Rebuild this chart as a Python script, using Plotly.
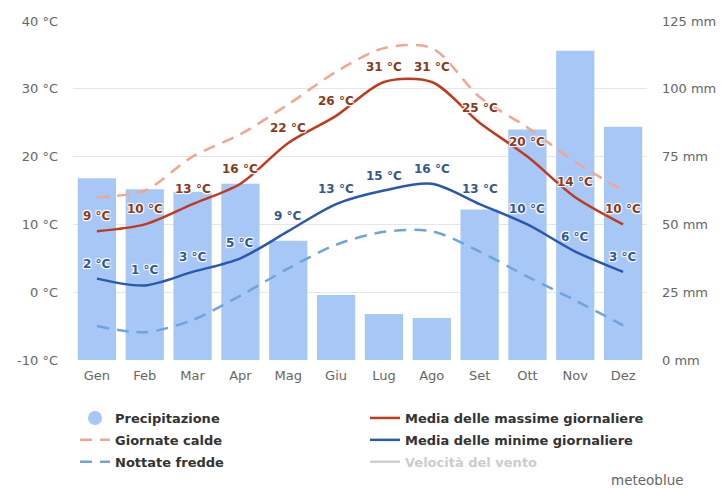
import plotly.graph_objects as go

months = ["Gen", "Feb", "Mar", "Apr", "Mag", "Giu", "Lug", "Ago", "Set", "Ott", "Nov", "Dez"]
precip_mm = [67, 63, 62, 65, 44, 24, 17, 15.5, 55.5, 85, 114, 86]
t_max = [9, 10, 13, 16, 22, 26, 31, 31, 25, 20, 14, 10]
t_min = [2, 1, 3, 5, 9, 13, 15, 16, 13, 10, 6, 3]
hot_days = [14, 15, 20, 23.3, 27.7, 32.5, 36, 36, 28.8, 24.3, 19.2, 15]
cold_nights = [-5, -5.9, -4.1, -0.5, 3.5, 7, 8.9, 9, 6, 2.3, -1.2, -4.9]

temp_ticks = [-10, 0, 10, 20, 30, 40]
temp_ticktext = [f"{v} °C" for v in temp_ticks]
mm_ticks = [0, 25, 50, 75, 100, 125]
mm_ticktext = [f"{v} mm" for v in mm_ticks]

FONT = "DejaVu Sans"
halo = "1px 1px 1px #fff, -1px -1px 1px #fff, 1px -1px 1px #fff, -1px 1px 1px #fff"
SMOOTH = 0.85

fig = go.Figure()

fig.add_trace(go.Bar(
    x=months, y=precip_mm, yaxis="y", marker=dict(color="#a7c8f6", line=dict(width=0)),
    width=0.8, showlegend=False, name="Precipitazione", hoverinfo="skip"))

fig.add_trace(go.Scatter(
    x=months, y=hot_days, yaxis="y2", mode="lines",
    line=dict(color="#f2a591", width=2.5, dash="12px,8px", shape="spline", smoothing=SMOOTH),
    name="Giornate calde", legend="legend", legendgroup="g2", legendrank=2))
fig.add_trace(go.Scatter(
    x=months, y=cold_nights, yaxis="y2", mode="lines",
    line=dict(color="#6fa4dc", width=2.5, dash="12px,8px", shape="spline", smoothing=SMOOTH),
    name="Nottate fredde", legend="legend", legendgroup="g3", legendrank=3))
fig.add_trace(go.Scatter(
    x=months, y=t_max, yaxis="y2", mode="lines",
    line=dict(color="#c13a1c", width=2.5, shape="spline", smoothing=SMOOTH),
    name="Media delle massime giornaliere", legend="legend2", legendgroup="g4", legendrank=4))
fig.add_trace(go.Scatter(
    x=months, y=t_min, yaxis="y2", mode="lines",
    line=dict(color="#2a58ac", width=2.5, shape="spline", smoothing=SMOOTH),
    name="Media delle minime giornaliere", legend="legend2", legendgroup="g5", legendrank=5))
# legend-only entries (no visible data)
fig.add_trace(go.Scatter(
    x=[months[0]], y=[None], yaxis="y2", mode="markers", marker=dict(color="#a7c8f6", size=14),
    name="Precipitazione", legend="legend", legendgroup="g1", legendrank=1, hoverinfo="skip"))
fig.add_trace(go.Scatter(
    x=[months[0]], y=[None], yaxis="y2", mode="lines", line=dict(color="#d0d0d0", width=2.5),
    name="<span style='color:#cccccc'>Velocità del vento</span>", legend="legend2", legendgroup="g6",
    legendrank=6, hoverinfo="skip"))

# data labels, placed through the axes and lifted above each point
annotations = []
for series, color in ((t_max, "#8a3a1c"), (t_min, "#34588f")):
    for m, v in zip(months, series):
        annotations.append(dict(
            x=m, y=v, xref="x", yref="y2", text=f"{v} °C", showarrow=False,
            xanchor="center", yanchor="middle", yshift=15,
            font=dict(family=FONT, size=12, color=color, weight="bold", shadow=halo)))
annotations.append(dict(
    text="meteoblue", xref="paper", yref="paper", x=(686 - 73) / 574, y=(360 - 480) / 339,
    xanchor="right", yanchor="middle", showarrow=False,
    font=dict(family=FONT, size=13.5, color="#666666")))

legend_common = dict(
    orientation="v", traceorder="grouped", tracegroupgap=2,
    font=dict(family=FONT, size=13, color="#333333", weight="bold"),
    bgcolor="rgba(0,0,0,0)", borderwidth=0, itemwidth=30,
    xref="container", yref="container", xanchor="left", yanchor="top",
    itemclick=False, itemdoubleclick=False)

fig.update_layout(
    width=721, height=488,
    margin=dict(l=73, r=74, t=21, b=128, autoexpand=False),
    paper_bgcolor="white", plot_bgcolor="white",
    font=dict(family=FONT, size=13, color="#666666"),
    barmode="overlay",
    xaxis=dict(type="category", categoryorder="array", categoryarray=months, range=[-0.5, 11.5],
               showgrid=False, showline=False, zeroline=False, ticks="", automargin=False,
               ticklabelstandoff=6, tickfont=dict(family=FONT, size=13, color="#666666")),
    yaxis=dict(side="right", range=[0, 125], tickvals=mm_ticks, ticktext=mm_ticktext, automargin=False,
               showgrid=True, gridcolor="#e6e6e6", gridwidth=1, zeroline=False, ticks="",
               ticklabelstandoff=14, tickfont=dict(family=FONT, size=13, color="#666666")),
    yaxis2=dict(side="left", overlaying="y", range=[-10, 40], tickvals=temp_ticks, ticktext=temp_ticktext,
                showgrid=False, zeroline=False, ticks="", ticklabelstandoff=14, automargin=False,
                tickfont=dict(family=FONT, size=13, color="#666666")),
    legend=dict(x=75 / 721, y=1 - 403 / 488, **legend_common),
    legend2=dict(x=365 / 721, y=1 - 403 / 488, **legend_common),
    annotations=annotations,
)

fig.write_html("out.html")
